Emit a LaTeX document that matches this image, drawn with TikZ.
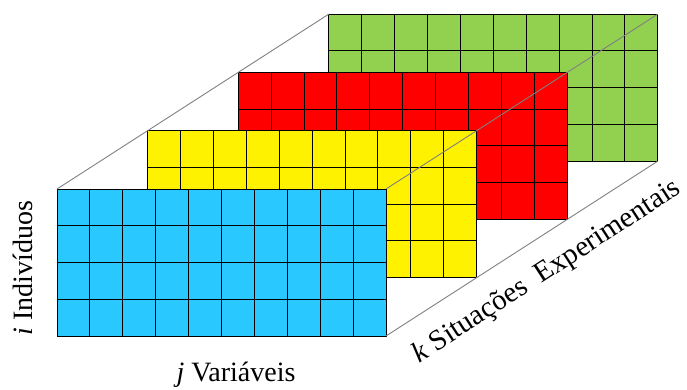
\documentclass[tikz,border=0pt]{standalone}
\usepackage{fontspec}
\setmainfont{Liberation Serif}
\newfontfamily\timesl{Liberation Serif}
\definecolor{cyanl}{RGB}{41,201,255}
\definecolor{greenl}{RGB}{146,208,80}
\tikzset{layer/.style={draw,line width=1pt,inner sep=0pt,outer sep=0pt,minimum width=329pt,minimum height=147pt,
  path picture={\foreach \c in {1,...,9}{\draw[line width=1pt] ([xshift=\c*32.9pt]path picture bounding box.south west)--([xshift=\c*32.9pt]path picture bounding box.north west);}
   \foreach \r in {1,2,3}{\draw[line width=1pt] ([yshift=\r*36.75pt]path picture bounding box.south west)--([yshift=\r*36.75pt]path picture bounding box.south east);}}},
 rim/.style={draw=gray,line width=0.9pt},
 lbl/.style={font=\timesl\fontsize{28}{32}\selectfont,inner sep=0pt}}

\begin{document}
\begin{tikzpicture}[x=1pt,y=-1pt]
\useasboundingbox (0,0) rectangle (687,389);
% back to front
\node[layer,fill=greenl](gr) at(493.3,87.6){};
\node[layer,fill=red](re) at(402.7,145.9){};
\node[layer,fill=yellow](ye) at(312.1,204.2){};
\node[layer,fill=cyanl](bl) at(221.5,262.5){};
\draw[rim](bl.north west)--(gr.north west)(bl.north east)--(gr.north east)(bl.south east)--(gr.south east);
% labels
\node[lbl,rotate=90](ind) at(23,268){\textit{i} Indivíduos};
\node[lbl](var) at(236,375){\textit{j} Variáveis};
\node[lbl,rotate=33,font=\timesl\fontsize{29}{33}\selectfont](sit) at(547,272){\textit{k} Situações\ \ Experimentais};
\end{tikzpicture}
\end{document}
